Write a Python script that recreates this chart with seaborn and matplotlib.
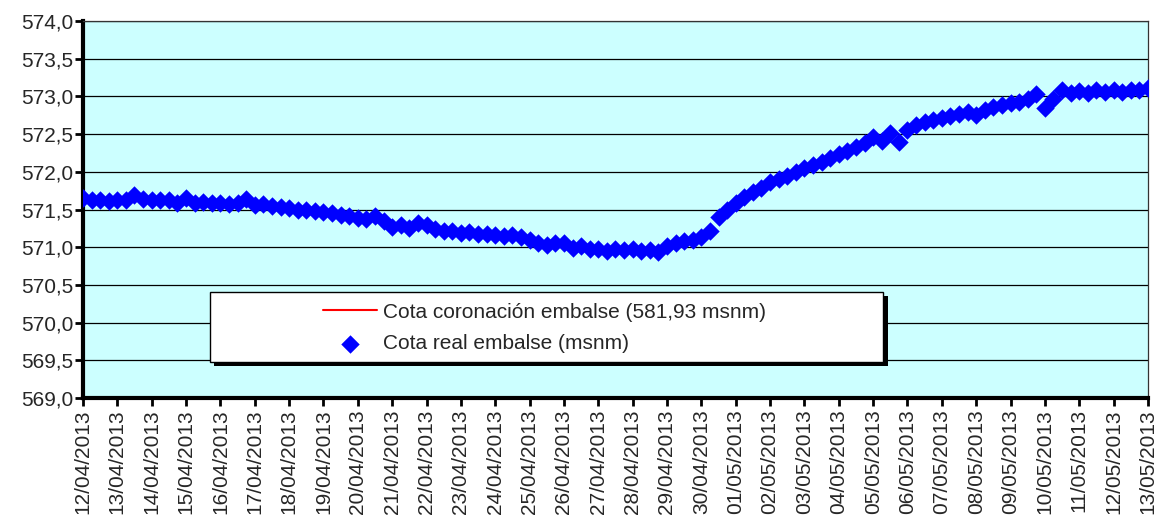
import pandas as pd
import matplotlib
matplotlib.use("Agg")
import matplotlib.pyplot as plt
import matplotlib.dates as mdates
from matplotlib.patches import Rectangle
from matplotlib.ticker import FuncFormatter, MultipleLocator
import seaborn as sns

# Reservoir level readings, every 6 hours from 12/04/2013 to 13/05/2013
start_date = "2013-04-12"
end_date = "2013-05-13"
cota_real = [
    571.65, 571.62, 571.63, 571.61,  # 12/04
    571.63, 571.62, 571.69, 571.64,  # 13/04
    571.63, 571.62, 571.63, 571.59,  # 14/04
    571.65, 571.59, 571.60, 571.58,  # 15/04
    571.58, 571.57, 571.59, 571.64,  # 16/04
    571.56, 571.57, 571.55, 571.53,  # 17/04
    571.52, 571.50, 571.49, 571.48,  # 18/04
    571.47, 571.45, 571.43, 571.41,  # 19/04
    571.39, 571.37, 571.42, 571.35,  # 20/04
    571.27, 571.30, 571.26, 571.32,  # 21/04
    571.30, 571.24, 571.21, 571.22,  # 22/04
    571.19, 571.20, 571.18, 571.17,  # 23/04
    571.16, 571.15, 571.16, 571.14,  # 24/04
    571.10, 571.05, 571.03, 571.06,  # 25/04
    571.05, 570.99, 571.02, 570.98,  # 26/04
    570.97, 570.95, 570.98, 570.96,  # 27/04
    570.97, 570.95, 570.96, 570.93,  # 28/04
    571.02, 571.05, 571.08, 571.10,  # 29/04
    571.14, 571.22, 571.40, 571.50,  # 30/04
    571.58, 571.66, 571.73, 571.79,  # 01/05
    571.86, 571.90, 571.95, 572.00,  # 02/05
    572.05, 572.09, 572.13, 572.18,  # 03/05
    572.23, 572.28, 572.33, 572.38,  # 04/05
    572.46, 572.41, 572.52, 572.40,  # 05/05
    572.56, 572.62, 572.66, 572.69,  # 06/05
    572.71, 572.74, 572.77, 572.79,  # 07/05
    572.75, 572.82, 572.86, 572.88,  # 08/05
    572.91, 572.93, 572.96, 573.03,  # 09/05
    572.85, 572.96, 573.08, 573.05,  # 10/05
    573.07, 573.05, 573.08, 573.06,  # 11/05
    573.08, 573.06, 573.09, 573.08,  # 12/05
    573.11,                          # 13/05
]
cota_coronacion = 581.93

label_coronacion = "Cota coronación embalse (581,93 msnm)"
label_real = "Cota real embalse (msnm)"

df = pd.DataFrame({
    "fecha": pd.date_range(start_date, periods=len(cota_real), freq="6h"),
    "cota": cota_real,
})
df_cor = pd.DataFrame({
    "fecha": pd.to_datetime([start_date, end_date]),
    "cota": [cota_coronacion, cota_coronacion],
})

sns.set_style("white")
plt.rcParams["font.family"] = ["Liberation Sans", "DejaVu Sans"]

fig, ax = plt.subplots(figsize=(11.57, 5.19), dpi=100)
fig.subplots_adjust(left=0.0717, right=0.9922, top=0.9595, bottom=0.2331)
ax.set_facecolor("#CCFFFF")

# Crest level (off the visible range) and real level
sns.lineplot(x="fecha", y="cota", data=df_cor, color="red", linewidth=1.5,
             label=label_coronacion, ax=ax)
sns.scatterplot(x="fecha", y="cota", data=df, marker="D", s=88, color="#0000FF",
                edgecolor="#0000FF", linewidth=0, label=label_real, ax=ax, zorder=3)

ax.set_xlim(pd.Timestamp(start_date), pd.Timestamp(end_date))
ax.set_ylim(569, 574)
ax.yaxis.set_major_locator(MultipleLocator(0.5))
ax.yaxis.set_major_formatter(FuncFormatter(lambda v, _: f"{v:.1f}".replace(".", ",")))
ax.xaxis.set_major_locator(mdates.DayLocator())
ax.xaxis.set_major_formatter(mdates.DateFormatter("%d/%m/%Y"))
plt.setp(ax.get_xticklabels(), rotation=90)

ax.grid(axis="y", color="black", linewidth=0.9)
ax.grid(axis="x", visible=False)
ax.set_xlabel("")
ax.set_ylabel("")
ax.tick_params(axis="both", labelsize=15, direction="out", length=6, width=2,
               color="black")
ax.tick_params(axis="y", left=True, pad=1)
ax.tick_params(axis="x", bottom=True, pad=2)

for side in ["left", "bottom"]:
    ax.spines[side].set_linewidth(3)
    ax.spines[side].set_color("black")
for side in ["top", "right"]:
    ax.spines[side].set_linewidth(0.9)
    ax.spines[side].set_color("#333333")

# Legend box with shadow
ax.add_patch(Rectangle((0.1235, 0.0850), 0.632, 0.186, transform=ax.transAxes,
                       facecolor="black", edgecolor="none", zorder=4, clip_on=False))
ax.add_patch(Rectangle((0.1192, 0.0955), 0.632, 0.186, transform=ax.transAxes,
                       facecolor="white", edgecolor="black", linewidth=1,
                       zorder=4, clip_on=False))
leg = ax.legend(loc="center left", bbox_to_anchor=(0.2254, 0.186), frameon=False,
                fontsize=15, handlelength=2.6, handletextpad=0.3,
                labelspacing=0.6, borderpad=0, borderaxespad=0)
leg.set_zorder(5)

plt.savefig("out.png", dpi=100)
